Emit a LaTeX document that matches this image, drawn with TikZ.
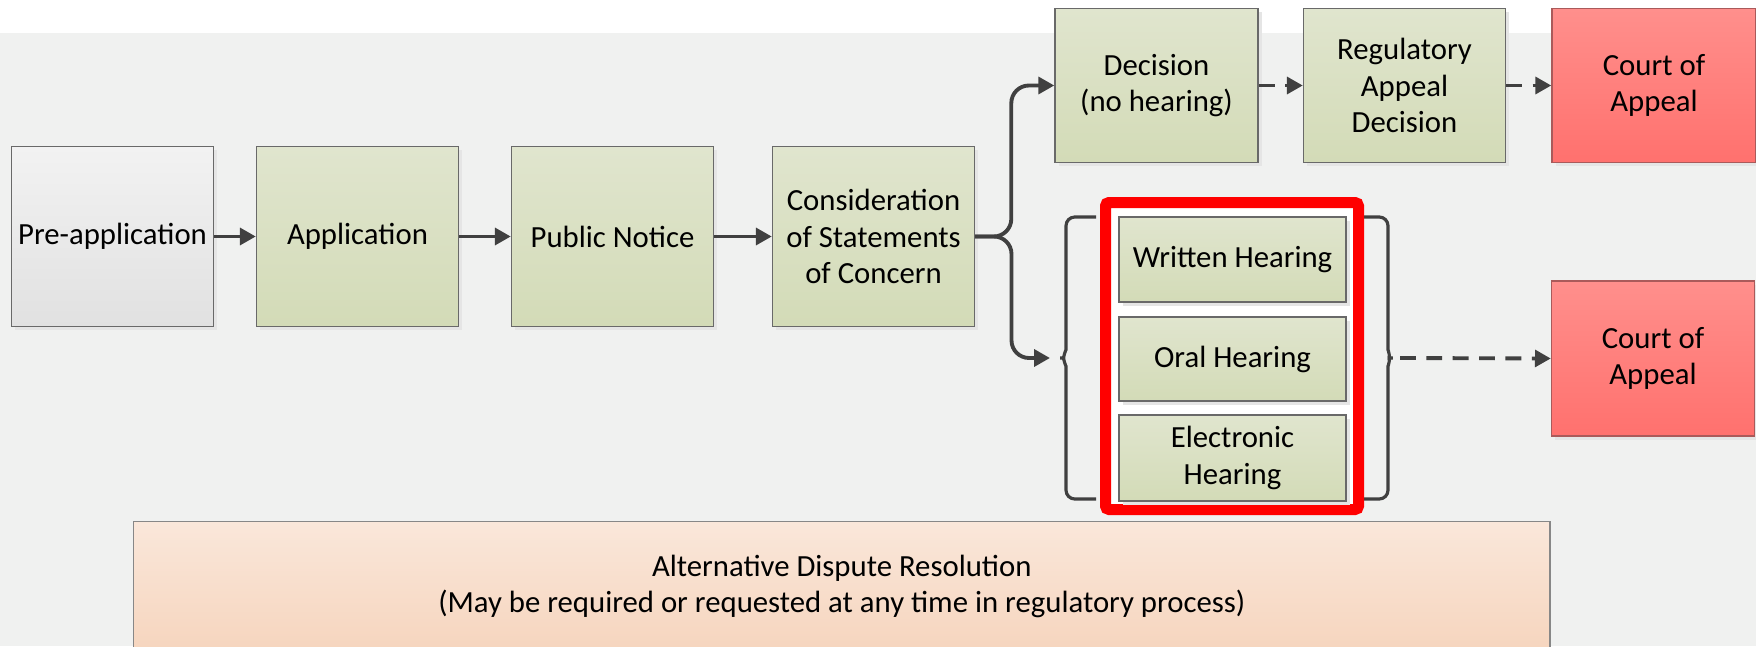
\documentclass[tikz,border=0pt]{standalone}
\usepackage{fontspec}
\setmainfont{Carlito}
\usepackage{tikz}
\usetikzlibrary{arrows.meta, shadows}
\definecolor{bggrey}{RGB}{240,241,240}
\definecolor{greentop}{RGB}{224,229,206}
\definecolor{greenbot}{RGB}{211,219,183}
\definecolor{greytop}{RGB}{242,242,242}
\definecolor{greybot}{RGB}{225,225,225}
\definecolor{redtop}{RGB}{255,143,140}
\definecolor{redbot}{RGB}{255,113,110}
\definecolor{peachtop}{RGB}{250,231,218}
\definecolor{peachbot}{RGB}{246,213,190}
\definecolor{linegrey}{RGB}{64,64,64}
\definecolor{edgegrey}{RGB}{105,105,105}
\definecolor{courtedge}{RGB}{170,90,90}
\tikzstyle{stage} = [rectangle, align=center, draw=edgegrey, line width=0.8pt, top color=greentop, bottom color=greenbot, minimum width=4.04cm, minimum height=3.6cm, inner xsep=1pt, general shadow={fill=black!10, shadow xshift=0.07cm, shadow yshift=-0.07cm}, font=\fontsize{17.5}{20.8}\selectfont]
\tikzstyle{pre} = [stage, top color=greytop, bottom color=greybot]
\tikzstyle{court} = [stage, draw=courtedge, top color=redtop, bottom color=redbot]
\tikzstyle{hearing} = [stage, minimum width=4.54cm]
\tikzstyle{arrow} = [line width=2.2pt, draw=linegrey, -{Triangle[length=9pt,width=9.5pt]}]
\tikzstyle{dasharrow} = [arrow, dash pattern=on 9pt off 6pt]
\tikzstyle{bracket} = [line width=1.8pt, draw=linegrey, rounded corners=5pt]
\tikzstyle{redframe} = [line width=0.22cm, draw=red, fill=white, rounded corners=2pt]
\begin{document}
\begin{tikzpicture}[node distance=5.1cm]
  \fill[white] (0,0) rectangle (35.12,12.92);
  \fill[bggrey] (0,0) rectangle (35.12,12.26);
  \useasboundingbox (0,0) rectangle (35.12,12.92);

  \node (pre) [pre] at (2.25,8.19) {Pre-application};
  \node (app) [stage, right of=pre, xshift=-0.2cm] {Application};
  \node (pub) [stage, right of=app] {Public Notice};
  \node (cons) [stage, right of=pub, xshift=0.12cm] {Consideration\\of Statements\\of Concern};

  \node (dec) [stage, minimum width=4.06cm, minimum height=3.08cm] at (23.13,11.21) {Decision\\(no hearing)};
  \node (reg) [stage, minimum height=3.08cm, right of=dec, xshift=-0.14cm] {Regulatory\\Appeal\\Decision};
  \node (court1) [court, minimum width=4.08cm, minimum height=3.08cm, right of=reg, xshift=-0.11cm] {Court of\\Appeal};
  \node (court2) [court, minimum width=4.06cm, minimum height=3.1cm] at (33.06,5.75) {Court of\\Appeal};

  \coordinate (ltip) at (21.1,5.76);
  \coordinate (rtip) at (27.96,5.76);
  \draw[bracket] (21.92,8.58) -- (21.32,8.58) -- (21.32,6.1) to[out=-90,in=0] (ltip) to[out=0,in=90] (21.32,5.42) -- (21.32,2.94) -- (21.92,2.94);
  \draw[bracket] (27.24,8.58) -- (27.76,8.58) -- (27.76,6.1) to[out=-90,in=180] (rtip) to[out=180,in=90] (27.76,5.42) -- (27.76,2.94) -- (27.24,2.94);
  \draw[redframe] (22.11,2.73) rectangle (27.17,8.87);

  \node (writ) [hearing, minimum height=1.7cm] at (24.65,7.73) {Written Hearing};
  \node (oral) [hearing, minimum height=1.68cm, below of=writ, node distance=1.99cm] {Oral Hearing};
  \node (elec) [hearing, minimum height=1.72cm, below of=oral, node distance=1.98cm] {Electronic\\Hearing};

  \node (adr) [rectangle, align=center, draw=edgegrey!80, line width=0.8pt, top color=peachtop, bottom color=peachbot, minimum width=28.33cm, minimum height=2.59cm, font=\fontsize{17.5}{21}\selectfont] at (16.835,1.19) {Alternative Dispute Resolution\\(May be required or requested at any time in regulatory process)};

  \draw [arrow] (pre) -- (app);
  \draw [arrow] (app) -- (pub);
  \draw [arrow] (pub) -- (cons);
  \draw [arrow, rounded corners=10pt] (cons.east) -| ([xshift=-0.86cm]dec.west) -- (dec.west);
  \draw [arrow, rounded corners=10pt] (cons.east) -| ([xshift=-0.87cm]ltip) -- ([xshift=-0.1cm]ltip);
  \draw [dasharrow] (dec) -- (reg);
  \draw [dasharrow] (reg) -- (court1);
  \draw [dasharrow] ([xshift=0.04cm]rtip) -- (court2.west);
\end{tikzpicture}
\end{document}
